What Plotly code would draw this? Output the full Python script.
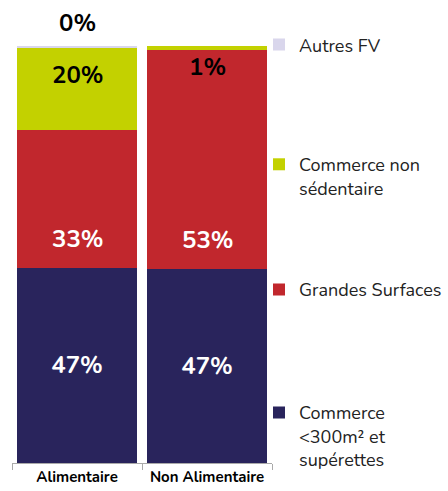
import plotly.graph_objects as go

categories = ["Alimentaire", "Non Alimentaire"]
series_names = ["Commerce<br><300m² et<br>supérettes", "Grandes Surfaces", "Commerce non<br>sédentaire", "Autres FV"]
commerce_300 = [47, 47]
grandes_surfaces = [33, 53]
non_sedentaire = [20, 1]
autres_fv = [0.3, 0]
colors = ["#29245c", "#c1272d", "#c3d100", "#d9d6ec"]

series_values = [commerce_300, grandes_surfaces, non_sedentaire, autres_fv]
FONT = "Nunito, Lato, sans-serif"
LABEL_SIZE = 24
LABEL_WEIGHT = 700

fig = go.Figure()
legend_ids = ["legend4", "legend3", "legend2", "legend"]
for i, (name, vals) in enumerate(zip(series_names, series_values)):
    fig.add_trace(go.Bar(
        x=categories, y=vals, name=name,
        marker=dict(color=colors[i], line=dict(width=0)),
        text=[f"{v:.0f}%" for v in vals] if i == 0 else None,
        textposition="inside" if i == 0 else "none",
        insidetextanchor="middle",
        textfont=dict(color="white", size=LABEL_SIZE, family=FONT, weight=LABEL_WEIGHT),
        constraintext="none",
        cliponaxis=False,
        legend=legend_ids[i],
        hoverinfo="skip",
    ))

totals = [sum(s[j] for s in series_values) for j in range(len(categories))]


def pct(v, j):
    return 100 * v / totals[j]


for j, cat in enumerate(categories):
    base_red = pct(commerce_300[j], j)
    top_green = pct(commerce_300[j] + grandes_surfaces[j] + non_sedentaire[j], j)
    # Grandes Surfaces label, placed a little above the segment's base
    fig.add_annotation(x=cat, y=base_red, text=f"{grandes_surfaces[j]:.0f}%", showarrow=False,
                       yanchor="middle", yshift=28.5,
                       font=dict(color="white", size=LABEL_SIZE, family=FONT, weight=LABEL_WEIGHT))
    # Commerce non sédentaire label, placed just under the stack top
    fig.add_annotation(x=cat, y=top_green, text=f"{non_sedentaire[j]:.0f}%", showarrow=False,
                       yanchor="middle", yshift=[-28, -21][j],
                       font=dict(color="black", size=LABEL_SIZE, family=FONT, weight=LABEL_WEIGHT))
    # Autres FV label above the stack (only where present)
    if autres_fv[j] > 0:
        fig.add_annotation(x=cat, y=100, text=f"{autres_fv[j]:.0f}%", showarrow=False,
                           yanchor="middle", yshift=23,
                           font=dict(color="black", size=LABEL_SIZE, family=FONT, weight=LABEL_WEIGHT))

leg_common = dict(font=dict(size=18, family=FONT, color="#222222"), valign="top",
                  bgcolor="rgba(0,0,0,0)", xanchor="left", yanchor="top", x=0.95,
                  itemclick=False, itemdoubleclick=False)
fig.update_layout(
    width=448, height=491,
    margin=dict(l=12, r=176, t=46, b=28, autoexpand=False),
    barmode="stack", barnorm="percent", bargap=0.08,
    plot_bgcolor="white", paper_bgcolor="white",
    font=dict(family=FONT),
    showlegend=True,
    legend=dict(y=1.047, **leg_common),
    legend2=dict(y=0.760, **leg_common),
    legend3=dict(y=0.460, **leg_common),
    legend4=dict(y=0.165, **leg_common),
    xaxis=dict(showline=True, linecolor="#aaaaaa", linewidth=1, ticks="outside", ticklen=6,
               tickcolor="#aaaaaa", tickson="boundaries",
               tickfont=dict(size=15, color="black", family=FONT, weight=700)),
    yaxis=dict(range=[0, 100], visible=False),
)

fig.write_html("out.html", config={"displayModeBar": False},
               post_script="document.body.style.margin='0';document.body.style.overflow='hidden';")
